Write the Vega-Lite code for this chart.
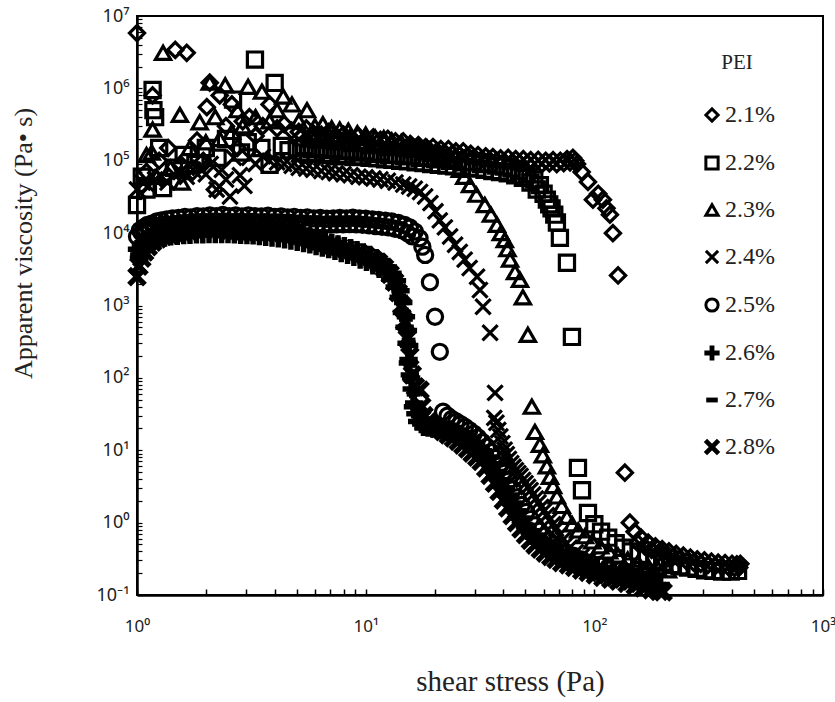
{
"$schema": "https://vega.github.io/schema/vega-lite/v6.json",
"width": 686, "height": 579,
"autosize": {"type": "none"},
"padding": {"left": 137, "top": 16, "right": 12, "bottom": 107},
"background": "white",
"config": {"view": {"stroke": "black", "strokeWidth": 2}},
"datasets": {"pts": [
{"p":"2.1%","x":1.0,"y":5.8e6},{"p":"2.1%","x":1.05,"y":4.5e4},{"p":"2.1%","x":1.1,"y":7e4},{"p":"2.1%","x":1.17,"y":8e5},{"p":"2.1%","x":1.25,"y":1e5},{"p":"2.1%","x":1.37,"y":1.5e5},{"p":"2.1%","x":1.47,"y":3.4e6},{"p":"2.1%","x":1.55,"y":9e4},{"p":"2.1%","x":1.65,"y":3.1e6},{"p":"2.1%","x":1.75,"y":7e4},{"p":"2.1%","x":1.83,"y":1.9e5},{"p":"2.1%","x":1.95,"y":1e5},{"p":"2.1%","x":2.02,"y":5.5e5},{"p":"2.1%","x":2.08,"y":1.2e6},{"p":"2.1%","x":2.19,"y":4e4},{"p":"2.1%","x":2.3,"y":8e5},{"p":"2.1%","x":2.45,"y":3e5},{"p":"2.1%","x":2.6,"y":6e5},{"p":"2.1%","x":2.75,"y":1.5e5},{"p":"2.1%","x":2.9,"y":3.5e5},{"p":"2.1%","x":3.1,"y":4e5},{"p":"2.1%","x":3.3,"y":2.2e5},{"p":"2.1%","x":3.55,"y":3e5},{"p":"2.1%","x":3.8,"y":6e5},{"p":"2.1%","x":4.1,"y":2.8e5},{"p":"2.1%","x":4.4,"y":3.2e5},{"p":"2.1%","x":4.75,"y":2.6e5},{"p":"2.1%","x":5.1,"y":2.5e5},{"p":"2.1%","x":5.5,"y":2.8e5},{"p":"2.1%","x":5.9,"y":2.4e5},{"p":"2.1%","x":6.4,"y":2.3e5},{"p":"2.1%","x":6.9,"y":2.5e5},{"p":"2.1%","x":7.4,"y":2.2e5},{"p":"2.1%","x":8.0,"y":2.3e5},{"p":"2.1%","x":8.6,"y":2.1e5},{"p":"2.1%","x":9.3,"y":2.2e5},{"p":"2.1%","x":10,"y":2e5},{"p":"2.1%","x":10.8,"y":2.1e5},{"p":"2.1%","x":11.6,"y":1.95e5},{"p":"2.1%","x":12.5,"y":2e5},{"p":"2.1%","x":13.5,"y":1.85e5},{"p":"2.1%","x":14.6,"y":1.85e5},{"p":"2.1%","x":15.7,"y":1.7e5},{"p":"2.1%","x":17,"y":1.65e5},{"p":"2.1%","x":18.3,"y":1.55e5},{"p":"2.1%","x":19.7,"y":1.55e5},{"p":"2.1%","x":21.3,"y":1.45e5},{"p":"2.1%","x":23,"y":1.45e5},{"p":"2.1%","x":24.8,"y":1.35e5},{"p":"2.1%","x":26.7,"y":1.35e5},{"p":"2.1%","x":28.8,"y":1.25e5},{"p":"2.1%","x":31,"y":1.2e5},{"p":"2.1%","x":33.5,"y":1.15e5},{"p":"2.1%","x":36,"y":1.12e5},{"p":"2.1%","x":38.9,"y":1.08e5},{"p":"2.1%","x":42,"y":1.1e5},{"p":"2.1%","x":45.3,"y":1.05e5},{"p":"2.1%","x":48.9,"y":1.05e5},{"p":"2.1%","x":52.7,"y":1.02e5},{"p":"2.1%","x":56.8,"y":1.03e5},{"p":"2.1%","x":61.3,"y":1e5},{"p":"2.1%","x":66,"y":1.02e5},{"p":"2.1%","x":71,"y":1e5},{"p":"2.1%","x":76,"y":1.05e5},{"p":"2.1%","x":80.6,"y":1.1e5},{"p":"2.1%","x":84,"y":9e4},{"p":"2.1%","x":88,"y":7e4},{"p":"2.1%","x":93.8,"y":5.1e4},{"p":"2.1%","x":98.6,"y":2.9e4},{"p":"2.1%","x":104,"y":3.5e4},{"p":"2.1%","x":109,"y":2.9e4},{"p":"2.1%","x":113,"y":2.2e4},{"p":"2.1%","x":117,"y":1.8e4},{"p":"2.1%","x":120.6,"y":1e4},{"p":"2.1%","x":127,"y":2.6e3},{"p":"2.1%","x":136,"y":4.9},{"p":"2.1%","x":143,"y":1.0},{"p":"2.1%","x":150,"y":0.75},{"p":"2.1%","x":160,"y":0.62},{"p":"2.1%","x":172,"y":0.53},{"p":"2.1%","x":185,"y":0.47},{"p":"2.1%","x":198,"y":0.43},{"p":"2.1%","x":212,"y":0.4},{"p":"2.1%","x":228,"y":0.37},{"p":"2.1%","x":245,"y":0.35},{"p":"2.1%","x":263,"y":0.33},{"p":"2.1%","x":282,"y":0.31},{"p":"2.1%","x":303,"y":0.3},{"p":"2.1%","x":325,"y":0.29},{"p":"2.1%","x":348,"y":0.28},{"p":"2.1%","x":373,"y":0.275},{"p":"2.1%","x":400,"y":0.27},{"p":"2.1%","x":420,"y":0.265},{"p":"2.1%","x":435,"y":0.27},
{"p":"2.1%","x":5.3,"y":2.2e5},{"p":"2.1%","x":5.7,"y":2.1e5},{"p":"2.1%","x":6.15,"y":2.05e5},{"p":"2.1%","x":6.65,"y":2e5},{"p":"2.1%","x":7.15,"y":1.95e5},{"p":"2.1%","x":7.7,"y":1.95e5},{"p":"2.1%","x":8.3,"y":1.9e5},{"p":"2.1%","x":8.95,"y":1.85e5},{"p":"2.1%","x":9.65,"y":1.8e5},{"p":"2.1%","x":10.4,"y":1.78e5},{"p":"2.1%","x":11.2,"y":1.75e5},{"p":"2.1%","x":12.05,"y":1.7e5},{"p":"2.1%","x":13,"y":1.65e5},{"p":"2.1%","x":14.05,"y":1.6e5},{"p":"2.1%","x":15.15,"y":1.55e5},{"p":"2.1%","x":16.35,"y":1.5e5},{"p":"2.1%","x":17.6,"y":1.45e5},{"p":"2.1%","x":19,"y":1.4e5},{"p":"2.1%","x":20.5,"y":1.35e5},{"p":"2.1%","x":22.1,"y":1.3e5},{"p":"2.1%","x":23.9,"y":1.25e5},{"p":"2.1%","x":25.7,"y":1.2e5},{"p":"2.1%","x":27.7,"y":1.15e5},{"p":"2.1%","x":29.9,"y":1.1e5},{"p":"2.1%","x":32.2,"y":1.05e5},{"p":"2.1%","x":34.7,"y":1.02e5},{"p":"2.1%","x":37.4,"y":1e5},{"p":"2.1%","x":40.4,"y":9.7e4},{"p":"2.1%","x":43.6,"y":9.5e4},{"p":"2.1%","x":47.1,"y":9.3e4},{"p":"2.1%","x":50.8,"y":9.2e4},{"p":"2.1%","x":54.7,"y":9e4},{"p":"2.1%","x":59,"y":9e4},{"p":"2.1%","x":63.6,"y":9.2e4},{"p":"2.1%","x":68.5,"y":9e4},{"p":"2.1%","x":73.5,"y":9.3e4},{"p":"2.1%","x":78.3,"y":9.5e4},{"p":"2.1%","x":82.5,"y":1e5},
{"p":"2.1%","x":155,"y":0.52},{"p":"2.1%","x":166,"y":0.47},{"p":"2.1%","x":178,"y":0.42},{"p":"2.1%","x":191,"y":0.38},{"p":"2.1%","x":205,"y":0.35},{"p":"2.1%","x":220,"y":0.33},{"p":"2.1%","x":236,"y":0.31},{"p":"2.1%","x":254,"y":0.29},{"p":"2.1%","x":272,"y":0.28},{"p":"2.1%","x":292,"y":0.27},{"p":"2.1%","x":314,"y":0.26},{"p":"2.1%","x":337,"y":0.25},{"p":"2.1%","x":361,"y":0.245},{"p":"2.1%","x":387,"y":0.24},{"p":"2.1%","x":410,"y":0.235},{"p":"2.1%","x":430,"y":0.24},
{"p":"2.2%","x":1.0,"y":2.45e4},{"p":"2.2%","x":1.05,"y":6e4},{"p":"2.2%","x":1.1,"y":4e4},{"p":"2.2%","x":1.17,"y":9.5e5},{"p":"2.2%","x":1.18,"y":5e5},{"p":"2.2%","x":1.2,"y":4e5},{"p":"2.2%","x":1.25,"y":1.5e5},{"p":"2.2%","x":1.3,"y":4.2e4},{"p":"2.2%","x":1.45,"y":8e4},{"p":"2.2%","x":1.6,"y":1.2e5},{"p":"2.2%","x":1.8,"y":9e4},{"p":"2.2%","x":2.0,"y":1.5e5},{"p":"2.2%","x":2.25,"y":1.1e5},{"p":"2.2%","x":2.45,"y":2e5},{"p":"2.2%","x":2.63,"y":7e5},{"p":"2.2%","x":2.85,"y":1.3e5},{"p":"2.2%","x":3.05,"y":1.8e5},{"p":"2.2%","x":3.28,"y":2.5e6},{"p":"2.2%","x":3.5,"y":1.5e5},{"p":"2.2%","x":3.8,"y":8.8e4},{"p":"2.2%","x":4.0,"y":1.19e6},{"p":"2.2%","x":4.3,"y":1.6e5},{"p":"2.2%","x":4.6,"y":1.4e5},{"p":"2.2%","x":5.0,"y":1.5e5},{"p":"2.2%","x":5.4,"y":1.6e5},{"p":"2.2%","x":5.8,"y":1.45e5},{"p":"2.2%","x":6.3,"y":1.5e5},{"p":"2.2%","x":6.8,"y":1.4e5},{"p":"2.2%","x":7.3,"y":1.45e5},{"p":"2.2%","x":7.9,"y":1.35e5},{"p":"2.2%","x":8.5,"y":1.4e5},{"p":"2.2%","x":9.2,"y":1.3e5},{"p":"2.2%","x":10,"y":1.35e5},{"p":"2.2%","x":10.8,"y":1.25e5},{"p":"2.2%","x":11.7,"y":1.3e5},{"p":"2.2%","x":12.6,"y":1.2e5},{"p":"2.2%","x":13.6,"y":1.22e5},{"p":"2.2%","x":14.7,"y":1.15e5},{"p":"2.2%","x":15.9,"y":1.18e5},{"p":"2.2%","x":17.2,"y":1.1e5},{"p":"2.2%","x":18.6,"y":1.12e5},{"p":"2.2%","x":20.1,"y":1.05e5},{"p":"2.2%","x":21.7,"y":1.08e5},{"p":"2.2%","x":23.4,"y":1e5},{"p":"2.2%","x":25.3,"y":1.02e5},{"p":"2.2%","x":27.3,"y":9.5e4},{"p":"2.2%","x":29.5,"y":9.7e4},{"p":"2.2%","x":31.9,"y":9e4},{"p":"2.2%","x":34.4,"y":9.2e4},{"p":"2.2%","x":37.2,"y":8.6e4},{"p":"2.2%","x":40.2,"y":8.3e4},{"p":"2.2%","x":43.4,"y":7.8e4},{"p":"2.2%","x":46.9,"y":7.2e4},{"p":"2.2%","x":50.6,"y":6.5e4},{"p":"2.2%","x":54.6,"y":5.5e4},{"p":"2.2%","x":57.8,"y":4.6e4},{"p":"2.2%","x":62,"y":2.9e4},{"p":"2.2%","x":65,"y":2.2e4},{"p":"2.2%","x":68.6,"y":1.4e4},{"p":"2.2%","x":70.7,"y":8.6e3},{"p":"2.2%","x":75.9,"y":3.9e3},{"p":"2.2%","x":79.8,"y":368},{"p":"2.2%","x":84.8,"y":5.7},{"p":"2.2%","x":88.3,"y":2.8},{"p":"2.2%","x":93.8,"y":1.36},{"p":"2.2%","x":100,"y":0.95},{"p":"2.2%","x":107,"y":0.75},{"p":"2.2%","x":115,"y":0.62},{"p":"2.2%","x":124,"y":0.52},{"p":"2.2%","x":134,"y":0.45},{"p":"2.2%","x":145,"y":0.4},{"p":"2.2%","x":157,"y":0.36},{"p":"2.2%","x":170,"y":0.33},{"p":"2.2%","x":184,"y":0.3},{"p":"2.2%","x":200,"y":0.28},{"p":"2.2%","x":217,"y":0.26},{"p":"2.2%","x":236,"y":0.25},{"p":"2.2%","x":257,"y":0.24},{"p":"2.2%","x":280,"y":0.23},{"p":"2.2%","x":305,"y":0.22},{"p":"2.2%","x":332,"y":0.215},{"p":"2.2%","x":362,"y":0.21},{"p":"2.2%","x":395,"y":0.21},{"p":"2.2%","x":425,"y":0.215},
{"p":"2.2%","x":5.2,"y":1.3e5},{"p":"2.2%","x":5.6,"y":1.25e5},{"p":"2.2%","x":6.05,"y":1.3e5},{"p":"2.2%","x":6.55,"y":1.2e5},{"p":"2.2%","x":7.05,"y":1.25e5},{"p":"2.2%","x":7.6,"y":1.15e5},{"p":"2.2%","x":8.2,"y":1.2e5},{"p":"2.2%","x":8.85,"y":1.12e5},{"p":"2.2%","x":9.6,"y":1.15e5},{"p":"2.2%","x":10.4,"y":1.1e5},{"p":"2.2%","x":11.25,"y":1.08e5},{"p":"2.2%","x":12.15,"y":1.05e5},{"p":"2.2%","x":13.1,"y":1.03e5},{"p":"2.2%","x":14.15,"y":1e5},{"p":"2.2%","x":15.3,"y":9.8e4},{"p":"2.2%","x":16.55,"y":9.5e4},{"p":"2.2%","x":17.9,"y":9.3e4},{"p":"2.2%","x":19.35,"y":9e4},{"p":"2.2%","x":20.9,"y":8.8e4},{"p":"2.2%","x":22.55,"y":8.6e4},{"p":"2.2%","x":24.35,"y":8.4e4},{"p":"2.2%","x":26.3,"y":8.2e4},{"p":"2.2%","x":28.4,"y":8e4},{"p":"2.2%","x":30.7,"y":7.8e4},{"p":"2.2%","x":33.1,"y":7.5e4},{"p":"2.2%","x":35.8,"y":7.2e4},{"p":"2.2%","x":38.7,"y":7e4},{"p":"2.2%","x":41.8,"y":6.7e4},{"p":"2.2%","x":45.1,"y":6.3e4},{"p":"2.2%","x":48.7,"y":5.8e4},{"p":"2.2%","x":52.6,"y":5e4},{"p":"2.2%","x":56,"y":4e4},{"p":"2.2%","x":60,"y":3.5e4},{"p":"2.2%","x":63.5,"y":2.5e4},{"p":"2.2%","x":66.8,"y":1.8e4},
{"p":"2.3%","x":1.1,"y":1.2e5},{"p":"2.3%","x":1.16,"y":1.3e5},{"p":"2.3%","x":1.17,"y":2.7e5},{"p":"2.3%","x":1.22,"y":6e4},{"p":"2.3%","x":1.3,"y":3.1e6},{"p":"2.3%","x":1.4,"y":8e4},{"p":"2.3%","x":1.54,"y":4.3e5},{"p":"2.3%","x":1.57,"y":5e4},{"p":"2.3%","x":1.7,"y":1.5e5},{"p":"2.3%","x":1.88,"y":3.4e5},{"p":"2.3%","x":2.0,"y":1.8e5},{"p":"2.3%","x":2.08,"y":1.2e6},{"p":"2.3%","x":2.2,"y":4e5},{"p":"2.3%","x":2.3,"y":2e5},{"p":"2.3%","x":2.43,"y":1.1e6},{"p":"2.3%","x":2.6,"y":2.5e5},{"p":"2.3%","x":2.75,"y":5e5},{"p":"2.3%","x":2.9,"y":3e5},{"p":"2.3%","x":3.06,"y":1.05e6},{"p":"2.3%","x":3.3,"y":4e5},{"p":"2.3%","x":3.52,"y":9e5},{"p":"2.3%","x":3.8,"y":3.5e5},{"p":"2.3%","x":4.1,"y":5e5},{"p":"2.3%","x":4.36,"y":7.7e5},{"p":"2.3%","x":4.76,"y":6e5},{"p":"2.3%","x":5.1,"y":3.5e5},{"p":"2.3%","x":5.54,"y":5e5},{"p":"2.3%","x":6.0,"y":3e5},{"p":"2.3%","x":6.5,"y":3.2e5},{"p":"2.3%","x":7.1,"y":2.8e5},{"p":"2.3%","x":7.7,"y":2.7e5},{"p":"2.3%","x":8.4,"y":2.6e5},{"p":"2.3%","x":9.2,"y":2.4e5},{"p":"2.3%","x":10,"y":2.3e5},{"p":"2.3%","x":11,"y":2.1e5},{"p":"2.3%","x":12,"y":2.05e5},{"p":"2.3%","x":13,"y":1.9e5},{"p":"2.3%","x":14.3,"y":1.8e5},{"p":"2.3%","x":15.6,"y":1.7e5},{"p":"2.3%","x":17,"y":1.6e5},{"p":"2.3%","x":18.6,"y":1.5e5},{"p":"2.3%","x":20.3,"y":1.35e5},{"p":"2.3%","x":22,"y":1.2e5},{"p":"2.3%","x":24,"y":1e5},{"p":"2.3%","x":6.2,"y":1.9e5},{"p":"2.3%","x":6.8,"y":2e5},{"p":"2.3%","x":7.4,"y":1.8e5},{"p":"2.3%","x":8.1,"y":1.85e5},{"p":"2.3%","x":8.8,"y":1.7e5},{"p":"2.3%","x":9.6,"y":1.75e5},{"p":"2.3%","x":10.5,"y":1.6e5},{"p":"2.3%","x":11.5,"y":1.65e5},{"p":"2.3%","x":12.5,"y":1.5e5},{"p":"2.3%","x":13.6,"y":1.55e5},{"p":"2.3%","x":14.9,"y":1.45e5},{"p":"2.3%","x":16.3,"y":1.4e5},{"p":"2.3%","x":17.8,"y":1.3e5},{"p":"2.3%","x":19.4,"y":1.25e5},{"p":"2.3%","x":21.2,"y":1.15e5},{"p":"2.3%","x":23,"y":1.05e5},{"p":"2.3%","x":25.8,"y":7.5e4},{"p":"2.3%","x":27,"y":6e4},{"p":"2.3%","x":28.6,"y":4.6e4},{"p":"2.3%","x":30.5,"y":3.4e4},{"p":"2.3%","x":33.2,"y":2.45e4},{"p":"2.3%","x":35.3,"y":1.8e4},{"p":"2.3%","x":37.5,"y":1.3e4},{"p":"2.3%","x":39,"y":1e4},{"p":"2.3%","x":40.6,"y":8e3},{"p":"2.3%","x":41.7,"y":6e3},{"p":"2.3%","x":42.8,"y":4.3e3},{"p":"2.3%","x":45,"y":2.9e3},{"p":"2.3%","x":47.3,"y":2.26e3},{"p":"2.3%","x":48.7,"y":1.3e3},{"p":"2.3%","x":51.2,"y":393},{"p":"2.3%","x":53.3,"y":40},{"p":"2.3%","x":55,"y":17.9},{"p":"2.3%","x":57.8,"y":11.9},{"p":"2.3%","x":59.5,"y":8.5},{"p":"2.3%","x":62,"y":6},{"p":"2.3%","x":64,"y":4.3},{"p":"2.3%","x":66,"y":3.2},{"p":"2.3%","x":68.6,"y":2.3},{"p":"2.3%","x":72,"y":1.7},{"p":"2.3%","x":75.9,"y":1.2},{"p":"2.3%","x":80,"y":0.95},{"p":"2.3%","x":85,"y":0.78},{"p":"2.3%","x":91,"y":0.65},{"p":"2.3%","x":98,"y":0.55},{"p":"2.3%","x":106,"y":0.47},{"p":"2.3%","x":116,"y":0.4},{"p":"2.3%","x":127,"y":0.35},{"p":"2.3%","x":140,"y":0.31},{"p":"2.3%","x":155,"y":0.28},{"p":"2.3%","x":172,"y":0.25},{"p":"2.3%","x":190,"y":0.23},{"p":"2.3%","x":210,"y":0.22},
{"p":"2.4%","x":1.0,"y":4e4},{"p":"2.4%","x":1.06,"y":5e4},{"p":"2.4%","x":1.12,"y":4.5e4},{"p":"2.4%","x":1.2,"y":5.5e4},{"p":"2.4%","x":1.28,"y":6e4},{"p":"2.4%","x":1.36,"y":5e4},{"p":"2.4%","x":1.45,"y":6.5e4},{"p":"2.4%","x":1.55,"y":7e4},{"p":"2.4%","x":1.65,"y":6e4},{"p":"2.4%","x":1.76,"y":7.5e4},{"p":"2.4%","x":1.88,"y":8e4},{"p":"2.4%","x":2.0,"y":6.5e4},{"p":"2.4%","x":2.1,"y":9e4},{"p":"2.4%","x":2.23,"y":4e4},{"p":"2.4%","x":2.35,"y":7.5e4},{"p":"2.4%","x":2.45,"y":5.5e4},{"p":"2.4%","x":2.55,"y":3.2e4},{"p":"2.4%","x":2.65,"y":1.1e5},{"p":"2.4%","x":2.82,"y":6.3e4},{"p":"2.4%","x":2.95,"y":4.5e4},{"p":"2.4%","x":3.1,"y":1.1e5},{"p":"2.4%","x":3.3,"y":9e4},{"p":"2.4%","x":3.55,"y":1.15e5},{"p":"2.4%","x":3.8,"y":1e5},{"p":"2.4%","x":4.1,"y":9.5e4},{"p":"2.4%","x":4.4,"y":9e4},{"p":"2.4%","x":4.75,"y":8.5e4},{"p":"2.4%","x":5.1,"y":8e4},{"p":"2.4%","x":5.5,"y":7.8e4},{"p":"2.4%","x":5.9,"y":7.5e4},{"p":"2.4%","x":6.4,"y":7.2e4},{"p":"2.4%","x":6.9,"y":7e4},{"p":"2.4%","x":7.4,"y":6.7e4},{"p":"2.4%","x":8.0,"y":6.5e4},{"p":"2.4%","x":8.6,"y":6.3e4},{"p":"2.4%","x":9.3,"y":6e4},{"p":"2.4%","x":10,"y":5.9e4},{"p":"2.4%","x":10.8,"y":5.7e4},{"p":"2.4%","x":11.6,"y":5.5e4},{"p":"2.4%","x":12.5,"y":5.3e4},{"p":"2.4%","x":13.5,"y":5e4},{"p":"2.4%","x":14.6,"y":4.7e4},{"p":"2.4%","x":15.5,"y":4.4e4},{"p":"2.4%","x":16.4,"y":4.1e4},{"p":"2.4%","x":17.3,"y":3.7e4},{"p":"2.4%","x":18.2,"y":3.2e4},{"p":"2.4%","x":19.2,"y":2.6e4},{"p":"2.4%","x":20.2,"y":2e4},{"p":"2.4%","x":21.1,"y":1.5e4},{"p":"2.4%","x":22.2,"y":1.2e4},{"p":"2.4%","x":23.4,"y":9e3},{"p":"2.4%","x":24.6,"y":6.9e3},{"p":"2.4%","x":25.8,"y":5.5e3},{"p":"2.4%","x":27.1,"y":4.3e3},{"p":"2.4%","x":28.5,"y":3.3e3},{"p":"2.4%","x":30.7,"y":2.5e3},{"p":"2.4%","x":31.6,"y":1.64e3},{"p":"2.4%","x":32.6,"y":960},{"p":"2.4%","x":35,"y":420},{"p":"2.4%","x":36.8,"y":62},{"p":"2.4%","x":36.5,"y":28},{"p":"2.4%","x":37.3,"y":24},{"p":"2.4%","x":38,"y":19},{"p":"2.4%","x":38.8,"y":15.5},{"p":"2.4%","x":39.6,"y":12.5},{"p":"2.4%","x":40.5,"y":10.2},{"p":"2.4%","x":41.4,"y":8.8},{"p":"2.4%","x":42.3,"y":7.6},{"p":"2.4%","x":43.3,"y":6.6},{"p":"2.4%","x":44.3,"y":5.9},{"p":"2.4%","x":45.4,"y":5.3},{"p":"2.4%","x":46.5,"y":4.8},{"p":"2.4%","x":47.6,"y":4.4},{"p":"2.4%","x":48.8,"y":3.9},{"p":"2.4%","x":50,"y":3.5},{"p":"2.4%","x":51.3,"y":3.1},{"p":"2.4%","x":52.6,"y":2.8},{"p":"2.4%","x":54,"y":2.45},{"p":"2.4%","x":55.5,"y":2.15},{"p":"2.4%","x":57,"y":1.9},{"p":"2.4%","x":58.6,"y":1.65},{"p":"2.4%","x":60.3,"y":1.45},{"p":"2.4%","x":62,"y":1.27},{"p":"2.4%","x":64,"y":1.1},{"p":"2.4%","x":66,"y":0.95},{"p":"2.4%","x":68,"y":0.82},{"p":"2.4%","x":70.5,"y":0.68},{"p":"2.4%","x":73,"y":0.58},{"p":"2.4%","x":75.5,"y":0.51},{"p":"2.4%","x":78,"y":0.45},{"p":"2.4%","x":83,"y":0.39},{"p":"2.4%","x":88,"y":0.34},{"p":"2.4%","x":94,"y":0.3},{"p":"2.4%","x":100,"y":0.27},{"p":"2.4%","x":108,"y":0.24},{"p":"2.4%","x":117,"y":0.22},{"p":"2.4%","x":127,"y":0.2},{"p":"2.4%","x":138,"y":0.19},{"p":"2.4%","x":150,"y":0.18},{"p":"2.4%","x":165,"y":0.17},{"p":"2.4%","x":180,"y":0.16},
{"p":"2.5%","x":1.0,"y":9e3},{"p":"2.5%","x":1.03,"y":1.1e4},{"p":"2.5%","x":1.07,"y":1.2e4},{"p":"2.5%","x":1.11,"y":1.3e4},{"p":"2.5%","x":1.16,"y":1.35e4},{"p":"2.5%","x":1.22,"y":1.45e4},{"p":"2.5%","x":1.28,"y":1.5e4},{"p":"2.5%","x":1.35,"y":1.55e4},{"p":"2.5%","x":1.43,"y":1.6e4},{"p":"2.5%","x":1.52,"y":1.62e4},{"p":"2.5%","x":1.62,"y":1.68e4},{"p":"2.5%","x":1.72,"y":1.65e4},{"p":"2.5%","x":1.83,"y":1.72e4},{"p":"2.5%","x":1.95,"y":1.7e4},{"p":"2.5%","x":2.08,"y":1.75e4},{"p":"2.5%","x":2.22,"y":1.72e4},{"p":"2.5%","x":2.37,"y":1.78e4},{"p":"2.5%","x":2.53,"y":1.72e4},{"p":"2.5%","x":2.7,"y":1.75e4},{"p":"2.5%","x":2.88,"y":1.7e4},{"p":"2.5%","x":3.07,"y":1.76e4},{"p":"2.5%","x":3.28,"y":1.72e4},{"p":"2.5%","x":3.5,"y":1.7e4},{"p":"2.5%","x":3.74,"y":1.74e4},{"p":"2.5%","x":4.0,"y":1.68e4},{"p":"2.5%","x":4.27,"y":1.7e4},{"p":"2.5%","x":4.56,"y":1.65e4},{"p":"2.5%","x":4.87,"y":1.68e4},{"p":"2.5%","x":5.2,"y":1.62e4},{"p":"2.5%","x":5.55,"y":1.65e4},{"p":"2.5%","x":5.93,"y":1.6e4},{"p":"2.5%","x":6.33,"y":1.62e4},{"p":"2.5%","x":6.76,"y":1.58e4},{"p":"2.5%","x":7.22,"y":1.6e4},{"p":"2.5%","x":7.71,"y":1.62e4},{"p":"2.5%","x":8.23,"y":1.6e4},{"p":"2.5%","x":8.79,"y":1.63e4},{"p":"2.5%","x":9.39,"y":1.6e4},{"p":"2.5%","x":10.0,"y":1.58e4},{"p":"2.5%","x":10.7,"y":1.55e4},{"p":"2.5%","x":11.4,"y":1.52e4},{"p":"2.5%","x":12.2,"y":1.48e4},{"p":"2.5%","x":13.0,"y":1.45e4},{"p":"2.5%","x":13.9,"y":1.38e4},{"p":"2.5%","x":14.8,"y":1.3e4},{"p":"2.5%","x":15.6,"y":1.2e4},{"p":"2.5%","x":16.4,"y":1.05e4},{"p":"2.5%","x":17.2,"y":8.5e3},{"p":"2.5%","x":17.7,"y":6.5e3},{"p":"2.5%","x":18.2,"y":5e3},{"p":"2.5%","x":19.1,"y":2.1e3},{"p":"2.5%","x":20.1,"y":700},{"p":"2.5%","x":21.1,"y":229},{"p":"2.5%","x":21.8,"y":34},{"p":"2.5%","x":22.8,"y":30},{"p":"2.5%","x":23.8,"y":27},{"p":"2.5%","x":24.9,"y":25},{"p":"2.5%","x":26,"y":23},{"p":"2.5%","x":27.2,"y":21},{"p":"2.5%","x":28.4,"y":19},{"p":"2.5%","x":29.7,"y":17},{"p":"2.5%","x":31,"y":15},{"p":"2.5%","x":32.4,"y":13},{"p":"2.5%","x":33.9,"y":11.2},{"p":"2.5%","x":35.4,"y":9.5},{"p":"2.5%","x":37,"y":7.8},{"p":"2.5%","x":38.7,"y":6.2},{"p":"2.5%","x":40.4,"y":4.9},{"p":"2.5%","x":42.2,"y":3.8},{"p":"2.5%","x":44.1,"y":2.9},{"p":"2.5%","x":46.1,"y":2.25},{"p":"2.5%","x":48.2,"y":1.75},{"p":"2.5%","x":50.4,"y":1.4},{"p":"2.5%","x":52.7,"y":1.12},{"p":"2.5%","x":55.1,"y":0.92},{"p":"2.5%","x":57.6,"y":0.77},{"p":"2.5%","x":60.2,"y":0.66},{"p":"2.5%","x":63,"y":0.57},{"p":"2.5%","x":66,"y":0.5},{"p":"2.5%","x":70,"y":0.44},{"p":"2.5%","x":75,"y":0.39},{"p":"2.5%","x":81,"y":0.35},{"p":"2.5%","x":88,"y":0.31},{"p":"2.5%","x":96,"y":0.28},{"p":"2.5%","x":105,"y":0.26},{"p":"2.5%","x":115,"y":0.24},{"p":"2.5%","x":126,"y":0.22},{"p":"2.5%","x":138,"y":0.21},{"p":"2.5%","x":151,"y":0.2},{"p":"2.5%","x":165,"y":0.19},{"p":"2.5%","x":180,"y":0.18},
{"p":"2.5%","x":1.05,"y":1e4},{"p":"2.5%","x":1.09,"y":1.05e4},{"p":"2.5%","x":1.135,"y":1.1e4},{"p":"2.5%","x":1.19,"y":1.15e4},{"p":"2.5%","x":1.25,"y":1.2e4},{"p":"2.5%","x":1.315,"y":1.25e4},{"p":"2.5%","x":1.39,"y":1.3e4},{"p":"2.5%","x":1.475,"y":1.33e4},{"p":"2.5%","x":1.57,"y":1.36e4},{"p":"2.5%","x":1.67,"y":1.38e4},{"p":"2.5%","x":1.775,"y":1.4e4},{"p":"2.5%","x":1.89,"y":1.42e4},{"p":"2.5%","x":2.015,"y":1.42e4},{"p":"2.5%","x":2.15,"y":1.44e4},{"p":"2.5%","x":2.295,"y":1.43e4},{"p":"2.5%","x":2.45,"y":1.44e4},{"p":"2.5%","x":2.615,"y":1.42e4},{"p":"2.5%","x":2.79,"y":1.43e4},{"p":"2.5%","x":2.975,"y":1.42e4},{"p":"2.5%","x":3.175,"y":1.43e4},{"p":"2.5%","x":3.39,"y":1.41e4},{"p":"2.5%","x":3.62,"y":1.42e4},{"p":"2.5%","x":3.87,"y":1.4e4},{"p":"2.5%","x":4.135,"y":1.4e4},{"p":"2.5%","x":4.415,"y":1.38e4},{"p":"2.5%","x":4.715,"y":1.38e4},{"p":"2.5%","x":5.035,"y":1.35e4},{"p":"2.5%","x":5.375,"y":1.35e4},{"p":"2.5%","x":5.74,"y":1.33e4},{"p":"2.5%","x":6.13,"y":1.33e4},{"p":"2.5%","x":6.545,"y":1.3e4},{"p":"2.5%","x":6.99,"y":1.32e4},{"p":"2.5%","x":7.465,"y":1.32e4},{"p":"2.5%","x":7.97,"y":1.32e4},{"p":"2.5%","x":8.51,"y":1.33e4},{"p":"2.5%","x":9.09,"y":1.32e4},{"p":"2.5%","x":9.7,"y":1.3e4},{"p":"2.5%","x":10.35,"y":1.28e4},{"p":"2.5%","x":11.05,"y":1.25e4},{"p":"2.5%","x":11.8,"y":1.22e4},{"p":"2.5%","x":12.6,"y":1.2e4},{"p":"2.5%","x":13.45,"y":1.15e4},{"p":"2.5%","x":14.35,"y":1.1e4},{"p":"2.5%","x":15.2,"y":1e4},{"p":"2.5%","x":16,"y":9e3},
{"p":"2.6%","x":1.0,"y":6e3},{"p":"2.6%","x":1.04,"y":7e3},{"p":"2.6%","x":1.09,"y":8e3},{"p":"2.6%","x":1.15,"y":8.8e3},{"p":"2.6%","x":1.21,"y":9.5e3},{"p":"2.6%","x":1.28,"y":1e4},{"p":"2.6%","x":1.36,"y":1.05e4},{"p":"2.6%","x":1.45,"y":1.08e4},{"p":"2.6%","x":1.55,"y":1.1e4},{"p":"2.6%","x":1.65,"y":1.12e4},{"p":"2.6%","x":1.76,"y":1.14e4},{"p":"2.6%","x":1.88,"y":1.15e4},{"p":"2.6%","x":2.0,"y":1.16e4},{"p":"2.6%","x":2.13,"y":1.17e4},{"p":"2.6%","x":2.27,"y":1.18e4},{"p":"2.6%","x":2.42,"y":1.18e4},{"p":"2.6%","x":2.58,"y":1.18e4},{"p":"2.6%","x":2.75,"y":1.17e4},{"p":"2.6%","x":2.93,"y":1.16e4},{"p":"2.6%","x":3.12,"y":1.15e4},{"p":"2.6%","x":3.32,"y":1.14e4},{"p":"2.6%","x":3.54,"y":1.12e4},{"p":"2.6%","x":3.77,"y":1.1e4},{"p":"2.6%","x":4.02,"y":1.08e4},{"p":"2.6%","x":4.28,"y":1.05e4},{"p":"2.6%","x":4.56,"y":1.02e4},{"p":"2.6%","x":4.86,"y":9.8e3},{"p":"2.6%","x":5.18,"y":9.4e3},{"p":"2.6%","x":5.52,"y":9e3},{"p":"2.6%","x":5.88,"y":8.6e3},{"p":"2.6%","x":6.26,"y":8.2e3},{"p":"2.6%","x":6.67,"y":7.8e3},{"p":"2.6%","x":7.11,"y":7.4e3},{"p":"2.6%","x":7.57,"y":7e3},{"p":"2.6%","x":8.07,"y":6.6e3},{"p":"2.6%","x":8.6,"y":6.2e3},{"p":"2.6%","x":9.16,"y":5.8e3},{"p":"2.6%","x":9.76,"y":5.4e3},{"p":"2.6%","x":10.4,"y":5e3},{"p":"2.6%","x":11.1,"y":4.5e3},{"p":"2.6%","x":11.8,"y":4e3},{"p":"2.6%","x":12.5,"y":3.4e3},{"p":"2.6%","x":13.1,"y":2.8e3},{"p":"2.6%","x":13.7,"y":2.2e3},{"p":"2.6%","x":14.2,"y":1.6e3},{"p":"2.6%","x":14.6,"y":1.1e3},{"p":"2.6%","x":15.0,"y":700},{"p":"2.6%","x":15.3,"y":450},{"p":"2.6%","x":15.5,"y":280},{"p":"2.6%","x":15.3,"y":160},{"p":"2.6%","x":15.8,"y":100},{"p":"2.6%","x":16.1,"y":40},{"p":"2.6%","x":16.5,"y":32},{"p":"2.6%","x":16.8,"y":25},{"p":"2.6%","x":17.5,"y":23},{"p":"2.6%","x":18.3,"y":22.5},{"p":"2.6%","x":19.2,"y":22},{"p":"2.6%","x":20.1,"y":21.3},{"p":"2.6%","x":21.1,"y":20.6},{"p":"2.6%","x":22.1,"y":20},{"p":"2.6%","x":23.2,"y":19.2},{"p":"2.6%","x":24.3,"y":18},{"p":"2.6%","x":25.4,"y":16.8},{"p":"2.6%","x":26.6,"y":15.5},{"p":"2.6%","x":27.8,"y":14.3},{"p":"2.6%","x":29.1,"y":13},{"p":"2.6%","x":30.4,"y":11.6},{"p":"2.6%","x":31.8,"y":10.2},{"p":"2.6%","x":33.2,"y":9},{"p":"2.6%","x":34.7,"y":8},{"p":"2.6%","x":36.2,"y":6.5},{"p":"2.6%","x":37.8,"y":5.1},{"p":"2.6%","x":39.4,"y":3.9},{"p":"2.6%","x":41.1,"y":3.0},{"p":"2.6%","x":42.9,"y":2.4},{"p":"2.6%","x":44.8,"y":1.85},{"p":"2.6%","x":46.8,"y":1.45},{"p":"2.6%","x":48.9,"y":1.15},{"p":"2.6%","x":51.1,"y":0.9},{"p":"2.6%","x":53.4,"y":0.74},{"p":"2.6%","x":55.8,"y":0.63},{"p":"2.6%","x":58.4,"y":0.55},{"p":"2.6%","x":61.2,"y":0.49},{"p":"2.6%","x":64.3,"y":0.44},{"p":"2.6%","x":67.6,"y":0.4},{"p":"2.6%","x":71.2,"y":0.36},{"p":"2.6%","x":75,"y":0.33},{"p":"2.6%","x":79,"y":0.31},{"p":"2.6%","x":84,"y":0.29},{"p":"2.6%","x":90,"y":0.27},{"p":"2.6%","x":96,"y":0.25},{"p":"2.6%","x":103,"y":0.23},{"p":"2.6%","x":111,"y":0.215},{"p":"2.6%","x":120,"y":0.205},{"p":"2.6%","x":130,"y":0.195},{"p":"2.6%","x":141,"y":0.185},{"p":"2.6%","x":153,"y":0.17},{"p":"2.6%","x":166,"y":0.16},{"p":"2.6%","x":180,"y":0.15},{"p":"2.6%","x":195,"y":0.14},
{"p":"2.6%","x":1.02,"y":4.5e3},{"p":"2.6%","x":1.065,"y":6e3},{"p":"2.6%","x":1.12,"y":7e3},{"p":"2.6%","x":1.18,"y":7.8e3},{"p":"2.6%","x":1.245,"y":8.3e3},{"p":"2.6%","x":1.32,"y":8.7e3},{"p":"2.6%","x":1.405,"y":9e3},{"p":"2.6%","x":1.5,"y":9.2e3},{"p":"2.6%","x":1.6,"y":9.4e3},{"p":"2.6%","x":1.705,"y":9.5e3},{"p":"2.6%","x":1.82,"y":9.6e3},{"p":"2.6%","x":1.94,"y":9.6e3},{"p":"2.6%","x":2.065,"y":9.7e3},{"p":"2.6%","x":2.2,"y":9.7e3},{"p":"2.6%","x":2.345,"y":9.7e3},{"p":"2.6%","x":2.5,"y":9.7e3},{"p":"2.6%","x":2.665,"y":9.6e3},{"p":"2.6%","x":2.84,"y":9.5e3},{"p":"2.6%","x":3.025,"y":9.4e3},{"p":"2.6%","x":3.22,"y":9.3e3},{"p":"2.6%","x":3.43,"y":9.1e3},{"p":"2.6%","x":3.655,"y":8.9e3},{"p":"2.6%","x":3.895,"y":8.7e3},{"p":"2.6%","x":4.15,"y":8.5e3},{"p":"2.6%","x":4.42,"y":8.2e3},{"p":"2.6%","x":4.71,"y":7.9e3},{"p":"2.6%","x":5.02,"y":7.6e3},{"p":"2.6%","x":5.35,"y":7.3e3},{"p":"2.6%","x":5.7,"y":7e3},{"p":"2.6%","x":6.07,"y":6.6e3},{"p":"2.6%","x":6.465,"y":6.3e3},{"p":"2.6%","x":6.89,"y":6e3},{"p":"2.6%","x":7.34,"y":5.7e3},{"p":"2.6%","x":7.82,"y":5.3e3},{"p":"2.6%","x":8.335,"y":5e3},{"p":"2.6%","x":8.88,"y":4.7e3},{"p":"2.6%","x":9.46,"y":4.3e3},{"p":"2.6%","x":10.08,"y":4e3},{"p":"2.6%","x":10.75,"y":3.6e3},{"p":"2.6%","x":11.45,"y":3.2e3},{"p":"2.6%","x":12.15,"y":2.8e3},{"p":"2.6%","x":12.8,"y":2.3e3},{"p":"2.6%","x":13.4,"y":1.8e3},{"p":"2.6%","x":13.95,"y":1.3e3},{"p":"2.6%","x":14.4,"y":800},{"p":"2.6%","x":14.8,"y":500},{"p":"2.6%","x":15.1,"y":300},{"p":"2.6%","x":15.4,"y":180},{"p":"2.6%","x":15.6,"y":110},{"p":"2.6%","x":15.9,"y":70},{"p":"2.6%","x":16.3,"y":45},
{"p":"2.6%","x":17.9,"y":21},{"p":"2.6%","x":18.75,"y":20.5},{"p":"2.6%","x":19.65,"y":20},{"p":"2.6%","x":20.6,"y":19.5},{"p":"2.6%","x":21.6,"y":18.8},{"p":"2.6%","x":22.65,"y":18},{"p":"2.6%","x":23.75,"y":17},{"p":"2.6%","x":24.85,"y":15.8},{"p":"2.6%","x":26,"y":14.5},{"p":"2.6%","x":27.2,"y":13.3},{"p":"2.6%","x":28.45,"y":12},{"p":"2.6%","x":29.75,"y":10.8},{"p":"2.6%","x":31.1,"y":9.5},{"p":"2.6%","x":32.5,"y":8.3},{"p":"2.6%","x":33.95,"y":7.2},{"p":"2.6%","x":35.45,"y":6},{"p":"2.6%","x":37,"y":4.8},{"p":"2.6%","x":38.6,"y":3.8},{"p":"2.6%","x":40.25,"y":3},{"p":"2.6%","x":42,"y":2.35},{"p":"2.6%","x":43.85,"y":1.85},{"p":"2.6%","x":45.8,"y":1.45},{"p":"2.6%","x":47.85,"y":1.15},{"p":"2.6%","x":50,"y":0.92},{"p":"2.6%","x":52.25,"y":0.75},{"p":"2.6%","x":54.6,"y":0.63},{"p":"2.6%","x":57.1,"y":0.54},{"p":"2.6%","x":59.8,"y":0.47},{"p":"2.6%","x":62.7,"y":0.42},{"p":"2.6%","x":65.9,"y":0.38},{"p":"2.6%","x":69.4,"y":0.34},{"p":"2.6%","x":73.1,"y":0.31},{"p":"2.6%","x":77,"y":0.29},{"p":"2.6%","x":81.5,"y":0.27},{"p":"2.6%","x":87,"y":0.25},{"p":"2.6%","x":93,"y":0.235},{"p":"2.6%","x":99.5,"y":0.22},{"p":"2.6%","x":107,"y":0.205},{"p":"2.6%","x":115.5,"y":0.195},{"p":"2.6%","x":125,"y":0.185},{"p":"2.6%","x":135.5,"y":0.175},{"p":"2.6%","x":147,"y":0.165},{"p":"2.6%","x":159.5,"y":0.155},{"p":"2.6%","x":173,"y":0.145},{"p":"2.6%","x":187.5,"y":0.135},
{"p":"2.7%","x":1.0,"y":5e3},{"p":"2.7%","x":1.06,"y":7.5e3},{"p":"2.7%","x":1.13,"y":9e3},{"p":"2.7%","x":1.22,"y":1e4},{"p":"2.7%","x":1.33,"y":1.07e4},{"p":"2.7%","x":1.46,"y":1.12e4},{"p":"2.7%","x":1.6,"y":1.15e4},{"p":"2.7%","x":1.76,"y":1.17e4},{"p":"2.7%","x":1.94,"y":1.18e4},{"p":"2.7%","x":2.14,"y":1.2e4},{"p":"2.7%","x":2.36,"y":1.2e4},{"p":"2.7%","x":2.6,"y":1.19e4},{"p":"2.7%","x":2.87,"y":1.17e4},{"p":"2.7%","x":3.17,"y":1.15e4},{"p":"2.7%","x":3.5,"y":1.12e4},{"p":"2.7%","x":3.86,"y":1.09e4},{"p":"2.7%","x":4.26,"y":1.05e4},{"p":"2.7%","x":4.7,"y":1e4},{"p":"2.7%","x":5.19,"y":9.5e3},{"p":"2.7%","x":5.73,"y":8.9e3},{"p":"2.7%","x":6.32,"y":8.2e3},{"p":"2.7%","x":6.98,"y":7.5e3},{"p":"2.7%","x":7.7,"y":6.8e3},{"p":"2.7%","x":8.5,"y":6.1e3},{"p":"2.7%","x":9.38,"y":5.4e3},{"p":"2.7%","x":10.3,"y":4.7e3},{"p":"2.7%","x":11.3,"y":4e3},{"p":"2.7%","x":12.3,"y":3.2e3},{"p":"2.7%","x":13.2,"y":2.4e3},{"p":"2.7%","x":13.9,"y":1.7e3},{"p":"2.7%","x":14.5,"y":1.1e3},{"p":"2.7%","x":15,"y":650},{"p":"2.7%","x":15.4,"y":330},{"p":"2.7%","x":15.7,"y":150},{"p":"2.7%","x":16.2,"y":60},{"p":"2.7%","x":16.9,"y":30},{"p":"2.7%","x":18,"y":24},{"p":"2.7%","x":19.5,"y":21},{"p":"2.7%","x":21,"y":19},{"p":"2.7%","x":22.6,"y":17.5},{"p":"2.7%","x":24.2,"y":16},{"p":"2.7%","x":25.8,"y":14},{"p":"2.7%","x":27.5,"y":12},{"p":"2.7%","x":29.3,"y":10},{"p":"2.7%","x":31.2,"y":8.3},{"p":"2.7%","x":33.2,"y":6.8},{"p":"2.7%","x":35.2,"y":5.4},{"p":"2.7%","x":37.3,"y":4.2},{"p":"2.7%","x":39.5,"y":3.1},{"p":"2.7%","x":41.8,"y":2.3},{"p":"2.7%","x":44.3,"y":1.7},{"p":"2.7%","x":47,"y":1.25},{"p":"2.7%","x":50,"y":0.95},{"p":"2.7%","x":53.3,"y":0.75},{"p":"2.7%","x":57,"y":0.6},{"p":"2.7%","x":61,"y":0.5},{"p":"2.7%","x":66,"y":0.42},{"p":"2.7%","x":72,"y":0.36},{"p":"2.7%","x":79,"y":0.31},{"p":"2.7%","x":87,"y":0.27},{"p":"2.7%","x":96,"y":0.24},{"p":"2.7%","x":106,"y":0.21},{"p":"2.7%","x":118,"y":0.19},{"p":"2.7%","x":131,"y":0.175},{"p":"2.7%","x":146,"y":0.16},{"p":"2.7%","x":163,"y":0.15},{"p":"2.7%","x":182,"y":0.14},{"p":"2.7%","x":198,"y":0.13},
{"p":"2.8%","x":1.0,"y":2.5e3},{"p":"2.8%","x":1.02,"y":3.5e3},{"p":"2.8%","x":1.05,"y":4.5e3},{"p":"2.8%","x":1.08,"y":5.5e3},{"p":"2.8%","x":1.12,"y":6.5e3},{"p":"2.8%","x":1.17,"y":7.5e3},{"p":"2.8%","x":1.23,"y":8.3e3},{"p":"2.8%","x":1.3,"y":9e3},{"p":"2.8%","x":1.38,"y":9.5e3},{"p":"2.8%","x":1.47,"y":1e4},{"p":"2.8%","x":1.57,"y":1.03e4},{"p":"2.8%","x":1.68,"y":1.06e4},{"p":"2.8%","x":1.8,"y":1.08e4},{"p":"2.8%","x":1.93,"y":1.1e4},{"p":"2.8%","x":2.07,"y":1.1e4},{"p":"2.8%","x":2.22,"y":1.1e4},{"p":"2.8%","x":2.38,"y":1.1e4},{"p":"2.8%","x":2.55,"y":1.09e4},{"p":"2.8%","x":2.73,"y":1.08e4},{"p":"2.8%","x":2.92,"y":1.07e4},{"p":"2.8%","x":3.13,"y":1.06e4},{"p":"2.8%","x":3.35,"y":1.04e4},{"p":"2.8%","x":3.59,"y":1.02e4},{"p":"2.8%","x":3.84,"y":1e4},{"p":"2.8%","x":4.11,"y":9.8e3},{"p":"2.8%","x":4.4,"y":9.5e3},{"p":"2.8%","x":4.71,"y":9.2e3},{"p":"2.8%","x":5.04,"y":8.9e3},{"p":"2.8%","x":5.4,"y":8.5e3},{"p":"2.8%","x":5.78,"y":8.1e3},{"p":"2.8%","x":6.19,"y":7.7e3},{"p":"2.8%","x":6.63,"y":7.3e3},{"p":"2.8%","x":7.1,"y":6.9e3},{"p":"2.8%","x":7.6,"y":6.5e3},{"p":"2.8%","x":8.14,"y":6.1e3},{"p":"2.8%","x":8.72,"y":5.7e3},{"p":"2.8%","x":9.34,"y":5.3e3},{"p":"2.8%","x":10,"y":4.9e3},{"p":"2.8%","x":10.7,"y":4.4e3},{"p":"2.8%","x":11.4,"y":3.9e3},{"p":"2.8%","x":12.1,"y":3.3e3},{"p":"2.8%","x":12.8,"y":2.7e3},{"p":"2.8%","x":13.4,"y":2.1e3},{"p":"2.8%","x":13.9,"y":1.5e3},{"p":"2.8%","x":14.4,"y":1e3},{"p":"2.8%","x":14.8,"y":600},{"p":"2.8%","x":15.2,"y":350},{"p":"2.8%","x":15.6,"y":200},{"p":"2.8%","x":16,"y":110},{"p":"2.8%","x":16.5,"y":75},{"p":"2.8%","x":17.3,"y":68},{"p":"2.8%","x":17.6,"y":40},{"p":"2.8%","x":18,"y":30},{"p":"2.8%","x":18.8,"y":25},{"p":"2.8%","x":19.8,"y":22},{"p":"2.8%","x":20.8,"y":20},{"p":"2.8%","x":21.9,"y":18},{"p":"2.8%","x":23,"y":16.3},{"p":"2.8%","x":24.2,"y":14.8},{"p":"2.8%","x":25.4,"y":13.3},{"p":"2.8%","x":26.6,"y":11.8},{"p":"2.8%","x":27.9,"y":10.4},{"p":"2.8%","x":29.2,"y":9.1},{"p":"2.8%","x":30.6,"y":8},{"p":"2.8%","x":32,"y":7},{"p":"2.8%","x":33.5,"y":5.7},{"p":"2.8%","x":35,"y":4.5},{"p":"2.8%","x":36.6,"y":3.5},{"p":"2.8%","x":38.3,"y":2.7},{"p":"2.8%","x":40,"y":2.05},{"p":"2.8%","x":41.8,"y":1.6},{"p":"2.8%","x":43.7,"y":1.25},{"p":"2.8%","x":45.7,"y":1.0},{"p":"2.8%","x":47.8,"y":0.82},{"p":"2.8%","x":50,"y":0.68},{"p":"2.8%","x":52.5,"y":0.57},{"p":"2.8%","x":55,"y":0.49},{"p":"2.8%","x":58,"y":0.43},{"p":"2.8%","x":61,"y":0.38},{"p":"2.8%","x":64.5,"y":0.34},{"p":"2.8%","x":68,"y":0.31},{"p":"2.8%","x":72,"y":0.28},{"p":"2.8%","x":77,"y":0.26},{"p":"2.8%","x":82,"y":0.24},{"p":"2.8%","x":88,"y":0.22},{"p":"2.8%","x":94,"y":0.205},{"p":"2.8%","x":101,"y":0.19},{"p":"2.8%","x":109,"y":0.175},{"p":"2.8%","x":118,"y":0.165},{"p":"2.8%","x":128,"y":0.155},{"p":"2.8%","x":139,"y":0.145},{"p":"2.8%","x":151,"y":0.135},{"p":"2.8%","x":164,"y":0.125},{"p":"2.8%","x":178,"y":0.118},{"p":"2.8%","x":192,"y":0.112},{"p":"2.8%","x":200,"y":0.11}
]},
"data": {"name": "pts"},
"mark": {"type": "point", "filled": false, "color": "black", "opacity": 1, "size": 230, "strokeWidth": 3.2},
"encoding": {
  "x": {"field": "x", "type": "quantitative",
    "scale": {"type": "log", "domain": [1, 1000], "nice": false},
    "axis": {"title": "shear stress (Pa)", "grid": false,
      "values": [1,2,3,4,5,6,7,8,9,10,20,30,40,50,60,70,80,90,100,200,300,400,500,600,700,800,900,1000],
      "labelExpr": "datum.value===1?'10⁰':datum.value===10?'10¹':datum.value===100?'10²':datum.value===1000?'10³':''",
      "labelFont": "Noto Sans", "labelFontSize": 17, "labelColor": "#222", "labelPadding": 29, "labelDx": -6, "labelOverlap": false, "labelFlush": false, "labelBound": false,
      "tickSize": -6, "tickColor": "black", "tickWidth": 1.5,
      "domainColor": "black", "domainWidth": 2.5,
      "titleFont": "Liberation Serif", "titleFontSize": 29, "titleFontWeight": "normal", "titleColor": "#222",
      "titleX": 373, "titleY": 86, "titleBaseline": "middle", "titleAlign": "center"}},
  "y": {"field": "y", "type": "quantitative",
    "scale": {"type": "log", "domain": [0.1, 10000000], "nice": false},
    "axis": {"title": "Apparent viscosity (Pa• s)", "grid": false,
      "values": [0.1,0.2,0.3,0.4,0.5,0.6,0.7,0.8,0.9,1,2,3,4,5,6,7,8,9,10,20,30,40,50,60,70,80,90,100,200,300,400,500,600,700,800,900,1000,2000,3000,4000,5000,6000,7000,8000,9000,10000,20000,30000,40000,50000,60000,70000,80000,90000,100000,200000,300000,400000,500000,600000,700000,800000,900000,1000000,2000000,3000000,4000000,5000000,6000000,7000000,8000000,9000000,10000000],
      "labelExpr": "datum.value===0.1?'10⁻¹':datum.value===1?'10⁰':datum.value===10?'10¹':datum.value===100?'10²':datum.value===1000?'10³':datum.value===10000?'10⁴':datum.value===100000?'10⁵':datum.value===1000000?'10⁶':datum.value===10000000?'10⁷':''",
      "labelFont": "Noto Sans", "labelFontSize": 18, "labelColor": "#222", "labelPadding": 13, "labelOverlap": false, "labelFlush": false, "labelBound": false,
      "tickSize": -5, "tickColor": "black", "tickWidth": 1.2,
      "domainColor": "black", "domainWidth": 2.5,
      "titleFont": "Liberation Serif", "titleFontSize": 26, "titleFontWeight": "normal", "titleColor": "#222",
      "titleX": -114, "titleY": 227, "titleBaseline": "middle", "titleAlign": "center", "titleAngle": -90}},
  "shape": {"field": "p", "type": "nominal",
    "scale": {"domain": ["2.1%","2.2%","2.3%","2.4%","2.5%","2.6%","2.7%","2.8%"],
      "range": ["diamond","square","triangle-up","M-1,-1L1,1M-1,1L1,-1","circle","M-1,-0.15H-0.15V-1H0.15V-0.15H1V0.15H0.15V1H-0.15V0.15H-1Z","M-0.7,-0.15H0.7V0.15H-0.7Z","M-1,-0.8L-0.8,-1L0,-0.2L0.8,-1L1,-0.8L0.2,0L1,0.8L0.8,1L0,0.2L-0.8,1L-1,0.8L-0.2,0Z"]},
    "legend": {"title": "PEI", "orient": "none", "legendX": 563, "legendY": 36, "padding": 0,
      "titleFont": "Liberation Serif", "titleFontSize": 21, "titleFontWeight": "normal", "titleColor": "#222", "titleAnchor": "middle", "titlePadding": 30,
      "labelFont": "Liberation Serif", "labelFontSize": 24, "labelColor": "#222", "labelOffset": 1,
      "rowPadding": 22, "symbolSize": 150, "symbolStrokeWidth": 3, "symbolStrokeColor": "black", "symbolFillColor": "transparent"}}
}
}
